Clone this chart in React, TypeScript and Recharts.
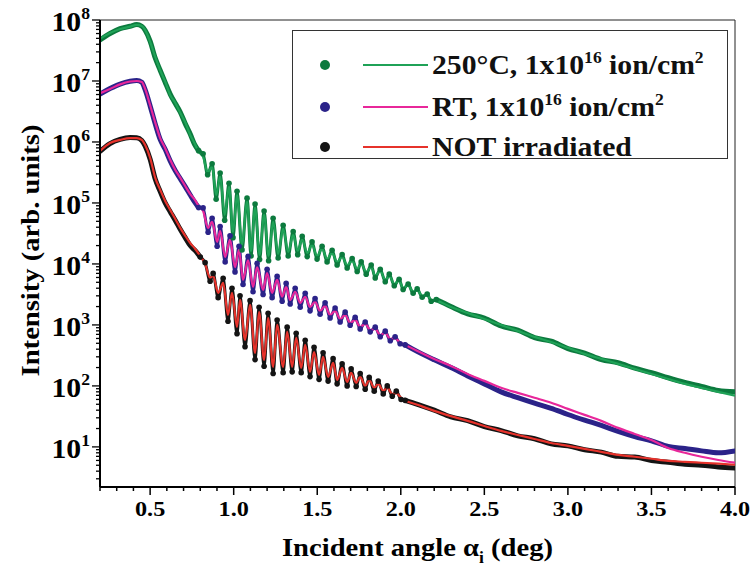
import React from 'react';
import { LineChart, Line, XAxis, YAxis, ReferenceLine, Label } from 'recharts';

// ---- Sample implanted at 250 °C, 1x10^16 ion/cm^2 ----
const hotAngle = [
  0.2, 0.26, 0.32, 0.38, 0.42, 0.45, 0.47, 0.5, 0.53, 0.56, 0.59, 0.62, 0.65, 0.68, 0.71, 0.74, 0.765, 0.79,
  0.817, 0.844, 0.871, 0.895, 0.919, 0.946, 0.972, 0.996, 1.02, 1.05,
  1.08, 1.104, 1.128, 1.155, 1.182, 1.209, 1.236, 1.266, 1.296, 1.326,
  1.356, 1.383, 1.41, 1.44, 1.469, 1.499, 1.529, 1.559, 1.589, 1.619,
  1.649, 1.679, 1.709, 1.739, 1.763, 1.793, 1.823, 1.847, 1.877, 1.907,
  1.931, 1.961, 1.99, 2.014, 2.044, 2.074, 2.098, 2.128, 2.158, 2.182,
  2.212,
  2.3, 2.4, 2.5, 2.6, 2.7, 2.8, 2.9, 3.0, 3.1, 3.2, 3.3, 3.4, 3.5, 3.6, 3.7, 3.8, 3.9, 4.0,
];
const hotMeasured = [
  4.7e7, 6.0e7, 7.2e7, 7.9e7, 8.4e7, 7.9e7, 6.8e7, 4.5e7, 2.4e7, 1.5e7, 9.5e6, 6.1e6, 4.3e6, 3.1e6, 2.0e6, 1.35e6, 9.2e5, 7.2e5,
  6.4e5, 2.9e5, 4.4e5, 1.15e5, 3.1e5, 5.2e4, 2.1e5, 2.7e4, 1.55e5, 1.7e4,
  1.2e5, 1.35e4, 9.6e4, 1.18e4, 7.4e4, 1.13e4, 5.6e4, 1.25e4, 4.3e4, 1.35e4,
  3.4e4, 1.42e4, 2.85e4, 1.32e4, 2.3e4, 1.2e4, 1.95e4, 1.08e4, 1.68e4, 9.6e3,
  1.43e4, 8.6e3, 1.23e4, 7.5e3, 1.08e4, 6.8e3, 9.6e3, 5.9e3, 8.2e3, 5.1e3,
  6.8e3, 4.4e3, 5.6e3, 3.8e3, 4.7e3, 3.3e3, 3.9e3, 2.85e3, 3.2e3, 2.45e3,
  2.6e3,
  2.0e3, 1.52e3, 1.3e3, 960, 820, 620, 540, 410, 345, 270, 240, 195, 165, 136, 114, 98, 84, 80,
];
const hotFit = [
  4.9e7, 6.1e7, 7.1e7, 7.8e7, 8.3e7, 8.0e7, 6.9e7, 4.4e7, 2.5e7, 1.5e7, 9.8e6, 5.9e6, 4.4e6, 3.0e6, 2.1e6, 1.3e6, 9.6e5, 6.9e5,
  5.7e5, 3.2e5, 3.9e5, 1.35e5, 2.7e5, 6.4e4, 1.83e5, 3.35e4, 1.35e5, 2.1e4,
  1.04e5, 1.63e4, 8.3e4, 1.41e4, 6.4e4, 1.35e4, 4.9e4, 1.46e4, 3.75e4, 1.57e4,
  3.0e4, 1.63e4, 2.5e4, 1.51e4, 2.05e4, 1.35e4, 1.76e4, 1.21e4, 1.51e4, 1.08e4,
  1.3e4, 9.6e3, 1.12e4, 8.3e3, 1.0e4, 7.4e3, 8.9e3, 6.4e3, 7.7e3, 5.5e3,
  6.4e3, 4.7e3, 5.3e3, 4.0e3, 4.5e3, 3.5e3, 3.75e3, 3.0e3, 3.1e3, 2.57e3,
  2.5e3,
  1.97e3, 1.57e3, 1.25e3, 1.0e3, 798, 636, 526, 420, 335, 277, 230, 190, 157, 130, 108, 93, 80, 69,
];

// ---- Sample implanted at room temperature, 1x10^16 ion/cm^2 ----
const rtAngle = [
  0.2, 0.26, 0.32, 0.38, 0.42, 0.45, 0.47, 0.5, 0.53, 0.56, 0.59, 0.62, 0.65, 0.68, 0.71, 0.74, 0.77, 0.79,
  0.817, 0.847, 0.871, 0.901, 0.919, 0.949, 0.978, 1.008, 1.032, 1.056,
  1.086, 1.116, 1.14, 1.176, 1.2, 1.23, 1.26, 1.29, 1.314, 1.338,
  1.368, 1.398, 1.428, 1.457, 1.487, 1.517, 1.547, 1.577, 1.607, 1.637,
  1.667, 1.697, 1.727, 1.757, 1.787, 1.817, 1.847, 1.877, 1.907, 1.937,
  1.966, 1.996, 2.026,
  2.1, 2.2, 2.3, 2.4, 2.5, 2.6, 2.7, 2.8, 2.9, 3.0, 3.1, 3.2, 3.3, 3.4, 3.5, 3.6, 3.7, 3.8, 3.9, 4.0,
];
const rtMeasured = [
  6.1e6, 7.5e6, 8.9e6, 9.9e6, 1.02e7, 9.5e6, 7.2e6, 3.9e6, 2.0e6, 1.1e6, 7.6e5, 4.9e5, 3.4e5, 2.5e5, 1.85e5, 1.35e5, 1.0e5, 8.4e4,
  8.3e4, 3.3e4, 5.6e4, 1.95e4, 4.1e4, 1.08e4, 2.9e4, 7.4e3, 1.95e4, 4.6e3,
  1.33e4, 3.5e3, 1.02e4, 3.15e3, 8.2e3, 2.8e3, 6.3e3, 2.45e3, 4.8e3, 2.2e3,
  4.0e3, 1.95e3, 3.3e3, 1.7e3, 2.7e3, 1.5e3, 2.3e3, 1.3e3, 1.9e3, 1.12e3,
  1.62e3, 990, 1.33e3, 860, 1.12e3, 770, 920, 640, 790, 550,
  640, 490, 470,
  365, 268, 200, 146, 108, 80, 64, 52, 43, 34, 27.5, 22.5, 18, 14.8, 12.6, 10.2, 9.4, 8.6, 8.0, 8.6,
];
const rtFit = [
  6.3e6, 7.4e6, 8.8e6, 9.8e6, 1.0e7, 9.6e6, 7.4e6, 4.0e6, 2.1e6, 1.16e6, 7.9e5, 5.1e5, 3.5e5, 2.6e5, 1.9e5, 1.4e5, 1.1e5, 8.9e4,
  7.4e4, 3.9e4, 4.9e4, 2.3e4, 3.5e4, 1.3e4, 2.5e4, 8.9e3, 1.7e4, 5.5e3,
  1.16e4, 4.2e3, 8.9e3, 3.75e3, 7.1e3, 3.35e3, 5.5e3, 2.9e3, 4.2e3, 2.57e3,
  3.5e3, 2.3e3, 2.9e3, 1.97e3, 2.4e3, 1.7e3, 2.05e3, 1.46e3, 1.7e3, 1.25e3,
  1.46e3, 1.08e3, 1.21e3, 927, 1.04e3, 828, 859, 686, 740, 589,
  600, 515, 470,
  375, 277, 213, 157, 121, 93, 77, 64, 53, 42, 33.5, 26.7, 20.5, 16.3, 13.0, 9.6, 8.0, 6.9, 6.1, 5.5,
];

// ---- Non-irradiated reference sample ----
const refAngle = [
  0.2, 0.26, 0.32, 0.38, 0.42, 0.45, 0.47, 0.5, 0.53, 0.56, 0.59, 0.62, 0.65, 0.68, 0.71, 0.74, 0.77, 0.8,
  0.829, 0.859, 0.877, 0.907, 0.937, 0.966, 0.99, 1.02, 1.038, 1.068,
  1.098, 1.128, 1.152, 1.182, 1.206, 1.236, 1.26, 1.296, 1.32, 1.35,
  1.374, 1.404, 1.428, 1.457, 1.481, 1.511, 1.535, 1.565, 1.595, 1.619,
  1.649, 1.679, 1.703, 1.733, 1.757, 1.787, 1.811, 1.841, 1.865, 1.895,
  1.919, 1.949, 1.973, 2.002, 2.026,
  2.1, 2.2, 2.3, 2.4, 2.5, 2.6, 2.7, 2.8, 2.9, 3.0, 3.1, 3.2, 3.3, 3.4, 3.5, 3.6, 3.7, 3.8, 3.9, 4.0,
];
const refMeasured = [
  7.0e5, 9.4e5, 1.1e6, 1.18e6, 1.17e6, 1.06e6, 8.6e5, 5.2e5, 2.5e5, 1.55e5, 1.0e5, 7.2e4, 5.2e4, 3.7e4, 2.7e4, 2.0e4, 1.65e4, 1.3e4,
  1.05e4, 5.2e3, 7.0e3, 2.8e3, 5.8e3, 1.15e3, 4.0e3, 720, 3.0e3, 440,
  2.5e3, 270, 1.95e3, 210, 1.55e3, 160, 1.2e3, 165, 920, 170,
  730, 165, 560, 142, 430, 128, 350, 120, 280, 108,
  230, 100, 190, 98, 160, 88, 138, 82, 120, 74,
  100, 68, 82, 60, 58,
  50, 40, 31, 27, 21.5, 18.5, 15.2, 13.6, 11.2, 10.4, 9.0, 8.2, 7.0, 6.8, 6.0, 5.6, 5.2, 5.0, 4.7, 4.5,
];
const refFit = [
  7.1e5, 9.6e5, 1.08e6, 1.16e6, 1.16e6, 1.08e6, 8.9e5, 5.5e5, 2.6e5, 1.65e5, 1.08e5, 7.7e4, 5.5e4, 3.9e4, 2.9e4, 2.2e4, 1.76e4, 1.35e4,
  1.0e4, 5.9e3, 6.4e3, 3.35e3, 4.9e3, 1.46e3, 3.35e3, 927, 2.57e3, 568,
  2.13e3, 348, 1.63e3, 267, 1.3e3, 205, 1.0e3, 205, 767, 205,
  612, 197, 470, 170, 360, 151, 299, 141, 238, 125,
  197, 116, 163, 112, 141, 100, 125, 93, 108, 83,
  93, 74, 76, 64, 58,
  49, 39, 32, 26.7, 22, 18.3, 15.7, 13.5, 11.6, 10.4, 9.3, 8.3, 7.4, 6.9, 6.4, 5.9, 5.7, 5.5, 5.3, 5.1,
];

// Angular range (deg) where the Kiessig fringes are resolved for each sample
const hotFringeRange: [number, number] = [0.79, 2.212];
const rtFringeRange: [number, number] = [0.79, 2.026];
const refFringeRange: [number, number] = [0.8, 2.026];

// ---- Axis ticks ----
const xMajorTicks = [0.5, 1.0, 1.5, 2.0, 2.5, 3.0, 3.5, 4.0];
const yDecadeTicks = [10, 100, 1e3, 1e4, 1e5, 1e6, 1e7, 1e8];
const X_DOMAIN: [number, number] = [0.2, 4.0];
const Y_DOMAIN: [number, number] = [2.2, 1e8];

const xAllTicks = Array.from({ length: 39 }, (_, i) => Math.round((0.2 + i * 0.1) * 10) / 10);
const yAllTicks: number[] = (() => {
  const out: number[] = [...yDecadeTicks];
  for (let k = 0; k < 8; k++) {
    for (let m = 2; m <= 9; m++) {
      const v = m * Math.pow(10, k);
      if (v >= Y_DOMAIN[0] && v < Y_DOMAIN[1]) out.push(v);
    }
  }
  return out.sort((a, b) => a - b);
})();

const FONT = '"Liberation Serif", "Times New Roman", serif';
const STRETCH = 1.1;

const COLORS = {
  hotDots: '#0c7a3e',
  hotLine: '#1fa257',
  rtDots: '#2b2389',
  rtLine: '#e8279a',
  refDots: '#141414',
  refLine: '#e6322b',
};

type Pt = { x: number; y: number | null };

const toPoints = (xs: number[], ys: number[]): Pt[] => xs.map((x, i) => ({ x, y: ys[i] }));
// measured points outside the fringe window (drawn as a dense band)
const outsideRange = (xs: number[], ys: number[], r: [number, number]): Pt[] =>
  xs.map((x, i) => ({ x, y: x <= r[0] || x >= r[1] ? ys[i] : null }));
// measured points inside the fringe window (drawn as separate dots)
const insideRange = (xs: number[], ys: number[], r: [number, number]): Pt[] =>
  xs.map((x, i) => ({ x, y: x >= r[0] && x <= r[1] ? ys[i] : null }));

const hotBand = outsideRange(hotAngle, hotMeasured, hotFringeRange);
const hotFringe = insideRange(hotAngle, hotMeasured, hotFringeRange);
const hotFitData = toPoints(hotAngle, hotFit);
const rtBand = outsideRange(rtAngle, rtMeasured, rtFringeRange);
const rtFringe = insideRange(rtAngle, rtMeasured, rtFringeRange);
const rtFitData = toPoints(rtAngle, rtFit);
const refBand = outsideRange(refAngle, refMeasured, refFringeRange);
const refFringe = insideRange(refAngle, refMeasured, refFringeRange);
const refFitData = toPoints(refAngle, refFit);

function XTick(props: any) {
  const { x, y, payload } = props;
  const v = payload.value as number;
  const major = xMajorTicks.some((m) => Math.abs(m - v) < 1e-6);
  return (
    <g>
      <line x1={x} x2={x} y1={y} y2={y + (major ? 8 : 4)} stroke="#000" strokeWidth={1.5} />
      {major && (
        <text
          transform={`translate(${x},${y + 29}) scale(${STRETCH},1)`}
          textAnchor="middle"
          fontFamily={FONT}
          fontWeight="bold"
          fontSize={22}
          fill="#000"
        >
          {v.toFixed(1)}
        </text>
      )}
    </g>
  );
}

function YTick(props: any) {
  const { x, y, payload } = props;
  const v = payload.value as number;
  const exp = Math.log10(v);
  const major = Math.abs(exp - Math.round(exp)) < 1e-6;
  return (
    <g>
      <line x1={x - (major ? 8 : 4)} x2={x} y1={y} y2={y} stroke="#000" strokeWidth={1.3} />
      {major && (
        <text
          transform={`translate(${x - 10},${y + 11}) scale(${STRETCH},1)`}
          textAnchor="end"
          fontFamily={FONT}
          fontWeight="bold"
          fontSize={27}
          fill="#000"
        >
          10
          <tspan dy={-12} fontSize={16}>
            {Math.round(exp)}
          </tspan>
        </text>
      )}
    </g>
  );
}

function XTitle(props: any) {
  const vb = props.viewBox || { x: 100, y: 487, width: 635, height: 83 };
  const cx = vb.x + vb.width / 2;
  const by = vb.y + 69;
  return (
    <text
      transform={`translate(${cx},${by}) scale(${STRETCH},1)`}
      textAnchor="middle"
      fontFamily={FONT}
      fontWeight="bold"
      fontSize={26}
      fill="#000"
    >
      Incident angle α
      <tspan dy={7} fontSize={16}>
        i
      </tspan>
      <tspan dy={-7}> (deg)</tspan>
    </text>
  );
}

function YTitle(props: any) {
  const vb = props.viewBox || { x: 0, y: 20, width: 100, height: 467 };
  const cy = vb.y + vb.height / 2 - 3;
  const bx = vb.x + 39;
  return (
    <text
      transform={`translate(${bx},${cy}) rotate(-90) scale(${STRETCH},1)`}
      textAnchor="middle"
      fontFamily={FONT}
      fontWeight="bold"
      fontSize={26}
      fill="#000"
    >
      Intensity (arb. units)
    </text>
  );
}

const legendRows = [
  { dot: COLORS.hotDots, line: COLORS.hotLine, y: 65, base: '250°C, 1x10', sup: '16', unit: ' ion/cm', unitSup: '2' },
  { dot: COLORS.rtDots, line: COLORS.rtLine, y: 107, base: 'RT, 1x10', sup: '16', unit: ' ion/cm', unitSup: '2' },
  { dot: COLORS.refDots, line: COLORS.refLine, y: 147, base: 'NOT irradiated', sup: '', unit: '', unitSup: '' },
];

function LegendBox() {
  return (
    <svg
      width={752}
      height={570}
      style={{ position: 'absolute', left: 0, top: 0, pointerEvents: 'none' }}
    >
      <rect x={292.5} y={30.5} width={435} height={128} fill="#fff" stroke="#333" strokeWidth={1} />
      {legendRows.map((r) => (
        <g key={r.base}>
          <circle cx={325} cy={r.y} r={5} fill={r.dot} />
          <line x1={363} x2={428} y1={r.y} y2={r.y} stroke={r.line} strokeWidth={2} />
          <text
            transform={`translate(432,${r.y + 9}) scale(${STRETCH},1)`}
            fontFamily={FONT}
            fontWeight="bold"
            fontSize={27}
            fill="#111"
          >
            {r.base}
            {r.sup && (
              <tspan dy={-11} fontSize={16}>
                {r.sup}
              </tspan>
            )}
            {r.unit && <tspan dy={11}>{r.unit}</tspan>}
            {r.unitSup && (
              <tspan dy={-11} fontSize={16}>
                {r.unitSup}
              </tspan>
            )}
          </text>
        </g>
      ))}
    </svg>
  );
}

const bandProps = (color: string) => ({
  type: 'monotone' as const,
  dataKey: 'y',
  stroke: color,
  strokeWidth: 5,
  strokeLinejoin: 'round' as const,
  strokeLinecap: 'round' as const,
  dot: false,
  activeDot: false,
  connectNulls: false,
  isAnimationActive: false,
  legendType: 'none' as const,
});

const fringeDotProps = (color: string) => ({
  type: 'monotone' as const,
  dataKey: 'y',
  stroke: color,
  strokeWidth: 3,
  strokeLinejoin: 'round' as const,
  strokeLinecap: 'round' as const,
  dot: { r: 2.8, fill: color, stroke: color, strokeWidth: 0 },
  activeDot: false,
  connectNulls: false,
  isAnimationActive: false,
  legendType: 'none' as const,
});

const fitProps = (color: string) => ({
  type: 'monotone' as const,
  dataKey: 'y',
  stroke: color,
  strokeWidth: 2.2,
  dot: false,
  activeDot: false,
  isAnimationActive: false,
  legendType: 'none' as const,
});

export default function App() {
  return (
    <div style={{ position: 'absolute', left: 0, top: 0, width: 752, height: 570, background: '#fff' }}>
      <LineChart width={752} height={570} margin={{ top: 20, right: 17, bottom: 0, left: 0 }}>
        <XAxis
          type="number"
          dataKey="x"
          domain={X_DOMAIN}
          allowDataOverflow
          ticks={xAllTicks}
          interval={0}
          tickSize={0}
          tickMargin={0}
          tickLine={false}
          tick={(p: any) => <XTick {...p} />}
          axisLine={{ stroke: '#000', strokeWidth: 2 }}
          height={83}
        >
          <Label content={(p: any) => <XTitle {...p} />} />
        </XAxis>
        <YAxis
          type="number"
          scale="log"
          domain={Y_DOMAIN}
          allowDataOverflow
          ticks={yAllTicks}
          interval={0}
          tickSize={0}
          tickMargin={0}
          tickLine={false}
          tick={(p: any) => <YTick {...p} />}
          axisLine={{ stroke: '#000', strokeWidth: 2 }}
          width={100}
        >
          <Label content={(p: any) => <YTitle {...p} />} />
        </YAxis>
        <ReferenceLine y={1e8} stroke="#222" strokeWidth={1} />
        <ReferenceLine x={4.0} stroke="#222" strokeWidth={1} />

        <Line data={hotBand} {...bandProps(COLORS.hotDots)} />
        <Line data={rtBand} {...bandProps(COLORS.rtDots)} />
        <Line data={refBand} {...bandProps(COLORS.refDots)} />
        <Line data={hotFringe} {...fringeDotProps(COLORS.hotDots)} />
        <Line data={rtFringe} {...fringeDotProps(COLORS.rtDots)} />
        <Line data={refFringe} {...fringeDotProps(COLORS.refDots)} />

        <Line data={hotFitData} {...fitProps(COLORS.hotLine)} />
        <Line data={rtFitData} {...fitProps(COLORS.rtLine)} />
        <Line data={refFitData} {...fitProps(COLORS.refLine)} />
      </LineChart>
      <LegendBox />
    </div>
  );
}
